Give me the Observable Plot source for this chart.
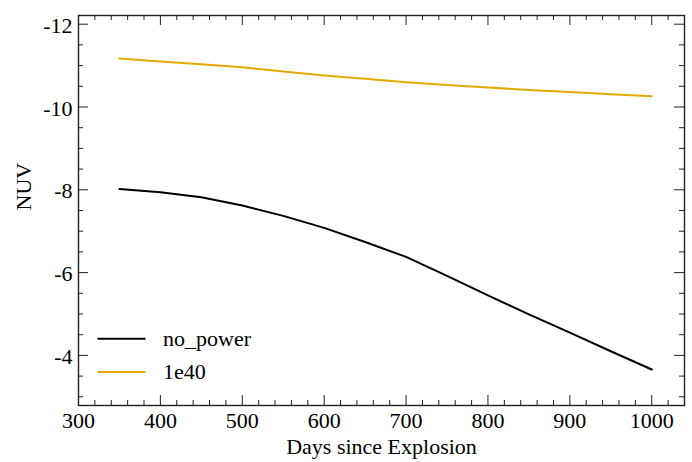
<!DOCTYPE html>
<html><head><meta charset="utf-8">
<script src="https://cdn.jsdelivr.net/npm/d3@7"></script>
<script src="https://cdn.jsdelivr.net/npm/@observablehq/plot@0.6"></script>
<style>
html,body{margin:0;padding:0;background:#fff;}
#chart{width:692px;height:462px;}
</style>
</head><body><div id="chart"></div>
<script>
// ---- data ----
const days = [350, 400, 450, 500, 550, 600, 650, 700, 750, 800, 850, 900, 950, 1000];
const noPower = [-8.02, -7.94, -7.82, -7.62, -7.37, -7.08, -6.74, -6.38, -5.92, -5.45, -4.99, -4.55, -4.10, -3.66];
const power1e40 = [-11.17, -11.10, -11.03, -10.96, -10.86, -10.76, -10.68, -10.60, -10.53, -10.47, -10.41, -10.36, -10.31, -10.26];
const seriesNames = ["no_power", "1e40"];
const seriesColors = ["#000000", "#e6a800"];
const xTicks = [300, 400, 500, 600, 700, 800, 900, 1000];
const yTicks = [-12, -10, -8, -6, -4];
const xLabel = "Days since Explosion";
const yLabel = "NUV";

// ---- layout ----
const W = 692, H = 462;
const mL = 78, mR = 8, mT = 15, mB = 57;
const FW = W - mL - mR, FH = H - mT - mB;
const FONT = "'Liberation Serif', 'Times New Roman', serif";
const FS = 22;

const rows = days.flatMap((d, i) => [
  {day: d, mag: noPower[i], series: seriesNames[0]},
  {day: d, mag: power1e40[i], series: seriesNames[1]}
]);
const xMinor = d3.range(300, 1040, 20).filter(v => !xTicks.includes(v));
const yMinor = d3.range(-12, -2.9, 0.5).filter(v => !yTicks.includes(v));

const tickStroke = "#222";
const plot = Plot.plot({
  width: W, height: H,
  marginLeft: mL, marginRight: mR, marginTop: mT, marginBottom: mB,
  style: {fontFamily: FONT, fontSize: FS + "px", color: "#000", background: "#fff", overflow: "visible"},
  x: {domain: [300, 1040], axis: null},
  y: {domain: [-2.79, -12.21], axis: null},
  color: {domain: seriesNames, range: seriesColors},
  marks: [
    // major and minor ticks (inward) on all four sides
    Plot.tickX(xTicks, {x: d => d, insetTop: FH - 10, stroke: tickStroke}),
    Plot.tickX(xTicks, {x: d => d, insetBottom: FH - 10, stroke: tickStroke}),
    Plot.tickX(xMinor, {x: d => d, insetTop: FH - 5, stroke: tickStroke}),
    Plot.tickX(xMinor, {x: d => d, insetBottom: FH - 5, stroke: tickStroke}),
    Plot.tickY(yTicks, {y: d => d, insetRight: FW - 10, stroke: tickStroke}),
    Plot.tickY(yTicks, {y: d => d, insetLeft: FW - 10, stroke: tickStroke}),
    Plot.tickY(yMinor, {y: d => d, insetRight: FW - 5, stroke: tickStroke}),
    Plot.tickY(yMinor, {y: d => d, insetLeft: FW - 5, stroke: tickStroke}),
    // tick labels
    Plot.axisX(xTicks, {anchor: "bottom", tickSize: 0, tickPadding: 7, tickFormat: d => String(d), label: null, fontSize: FS}),
    Plot.axisY(yTicks, {anchor: "left", tickSize: 0, tickPadding: 6, tickFormat: d => String(d), label: null, fontSize: FS, dy: 1.5}),
    // axis titles
    Plot.text([xLabel], {frameAnchor: "bottom", dy: 48, text: d => d, lineAnchor: "bottom", fontSize: FS}),
    Plot.text([yLabel], {frameAnchor: "left", dx: -48, rotate: -90, text: d => d, lineAnchor: "bottom", fontSize: FS}),
    // data
    Plot.line(rows, {x: "day", y: "mag", z: "series", stroke: "series", strokeWidth: 2}),
    Plot.frame({stroke: "#222", strokeWidth: 1.4})
  ]
});
document.getElementById("chart").appendChild(plot);

// legend (inside the plot, lower left)
const svg = d3.select(plot);
const lg = svg.append("g").attr("font-family", FONT).attr("font-size", FS).attr("text-anchor", "start");
seriesNames.forEach((name, i) => {
  const y = 338.7 + i * 33.3;
  lg.append("line").attr("x1", 97.5).attr("x2", 145.5).attr("y1", y).attr("y2", y)
    .attr("stroke", seriesColors[i]).attr("stroke-width", 2);
  lg.append("text").attr("x", 163).attr("y", y).attr("dy", "0.32em").attr("fill", "#000")
    .attr("text-anchor", "start").text(name);
});
</script>
</body></html>
